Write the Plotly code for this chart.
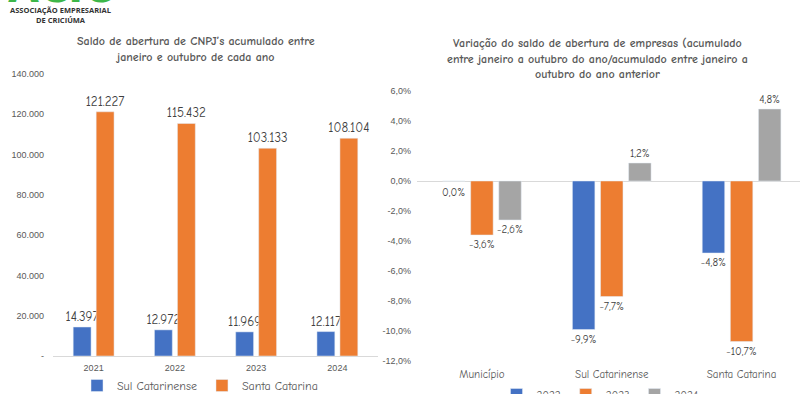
import plotly.graph_objects as go

# ---------------- data ----------------
years = ["2021", "2022", "2023", "2024"]
sul_catarinense = [14397, 12972, 11969, 12117]
santa_catarina = [121227, 115432, 103133, 108104]
left_ticks = [0, 20000, 40000, 60000, 80000, 100000, 120000, 140000]
left_ticktext = ["-", "20.000", "40.000", "60.000", "80.000", "100.000", "120.000", "140.000"]

regions = ["Município", "Sul Catarinense", "Santa Catarina"]
var_2022 = [0.0, -9.9, -4.8]
var_2023 = [-3.6, -7.7, -10.7]
var_2024 = [-2.6, 1.2, 4.8]
right_ticks = [-12, -10, -8, -6, -4, -2, 0, 2, 4, 6]
right_ticktext = ["-12,0%", "-10,0%", "-8,0%", "-6,0%", "-4,0%", "-2,0%",
                  "0,0%", "2,0%", "4,0%", "6,0%"]

left_title = "Saldo de abertura de CNPJ’s acumulado entre<br>janeiro e outubro de cada ano"
right_title = ("Variação do saldo de abertura de empresas (acumulado<br>"
               "entre janeiro a outubro do ano/acumulado entre janeiro a<br>"
               "outubro do ano anterior")

# ---------------- style ----------------
W, H = 800, 394
BLUE, ORANGE, GRAY = "#4472C4", "#ED7D31", "#A5A5A5"
TXT = "#595959"
LBL = "#404040"
COMIC = "Comic Sans MS, Comic Neue, Open Sans, sans-serif"
TICKF = "Liberation Sans, Arial, sans-serif"

L_W, L_SLOT = 0.22, 0.1415          # left bar width / slot half spacing (category units)
R_W, R_SLOT = 0.173, 0.2165         # right bar width / slot spacing


def xp(px):
    return px / W


def yp(px):
    return 1 - px / H


fig = go.Figure()

for vals, name, col, c in [(sul_catarinense, "Sul Catarinense", BLUE, -L_SLOT),
                           (santa_catarina, "Santa Catarina", ORANGE, L_SLOT)]:
    fig.add_trace(go.Bar(x=years, y=vals, name=name, marker_color=col,
                         xaxis="x", yaxis="y", width=L_W, offset=c - L_W / 2,
                         texttemplate="%{y:,d}", textposition="outside",
                         constraintext="none",
                         textfont=dict(family=COMIC, size=13, color=LBL),
                         cliponaxis=False, legend="legend"))

annotations = []
for k, (name, vals, col) in enumerate([("2022", var_2022, BLUE),
                                        ("2023", var_2023, ORANGE),
                                        ("2024", var_2024, GRAY)]):
    c = (k - 1) * R_SLOT
    texts = ["" if v == 0 else f"{v:.1f}%".replace(".", ",") for v in vals]
    fig.add_trace(go.Bar(x=regions, y=vals, name=name, marker_color=col,
                         xaxis="x2", yaxis="y2", width=R_W, offset=c - R_W / 2,
                         text=texts, textposition="outside", constraintext="none",
                         textfont=dict(family=COMIC, size=11, color=LBL),
                         cliponaxis=False, legend="legend2"))
    for i, v in enumerate(vals):
        if v == 0:
            annotations.append(dict(
                x=i + c, y=v, xref="x2", yref="y2", text=f"{v:.1f}%".replace(".", ","),
                showarrow=False, yanchor="top", yshift=-3,
                font=dict(family=COMIC, size=11, color=LBL)))

annotations += [
    dict(text=left_title, x=xp(196), y=yp(49), xref="paper", yref="paper",
         showarrow=False, xanchor="center", yanchor="middle",
         font=dict(family=COMIC, size=12, color=TXT, weight="bold")),
    dict(text=right_title, x=xp(597), y=yp(58), xref="paper", yref="paper",
         showarrow=False, xanchor="center", yanchor="middle",
         font=dict(family=COMIC, size=12, color=TXT, weight="bold")),
    dict(text="ACIC", x=xp(60), y=yp(13), xref="paper", yref="paper",
         showarrow=False, xanchor="center", yanchor="bottom",
         font=dict(family="DejaVu Sans", size=40, color="#3DB649", weight="bold")),
    dict(text="ASSOCIAÇÃO EMPRESARIAL<br>DE CRICIÚMA", x=xp(60), y=yp(3),
         xref="paper", yref="paper", showarrow=False, xanchor="center",
         yanchor="top", bgcolor="white",
         font=dict(family="Open Sans", size=7.5, color="#333333", weight="bold")),
]

fig.update_layout(
    width=W, height=H,
    margin=dict(l=0, r=0, t=0, b=0, autoexpand=False),
    paper_bgcolor="white", plot_bgcolor="white",
    separators=",.",
    barmode="overlay",
    showlegend=True,
    xaxis=dict(domain=[xp(53), xp(378)], anchor="y", showgrid=False,
               showline=True, linecolor="#D9D9D9", ticks="", range=[-0.5, 3.5],
               ticklabelstandoff=3,
               tickfont=dict(family=TICKF, size=9, color=TXT)),
    yaxis=dict(domain=[yp(356), yp(74)], anchor="x", range=[0, 140000],
               tickvals=left_ticks, ticktext=left_ticktext, showgrid=False,
               zeroline=False, showline=False, ticks="", ticklabelstandoff=8,
               tickfont=dict(family=TICKF, size=9, color=TXT)),
    xaxis2=dict(domain=[xp(417), 1.0], anchor="y2", showgrid=False,
                showline=False, ticks="", range=[-0.5, 2.45],
                ticklabelstandoff=5,
                tickfont=dict(family=COMIC, size=11, color=TXT)),
    yaxis2=dict(domain=[yp(361), yp(91)], anchor="free", position=xp(417),
                range=[-12, 6], tickvals=right_ticks, ticktext=right_ticktext,
                showgrid=False, zeroline=True, ticklabelstandoff=6,
                zerolinecolor="#D9D9D9", zerolinewidth=1, showline=False,
                ticks="", tickfont=dict(family=TICKF, size=9, color=TXT)),
    legend=dict(orientation="h", x=xp(200), xanchor="center",
                y=yp(371), yanchor="top", itemwidth=30,
                font=dict(family=COMIC, size=12, color=TXT),
                bgcolor="rgba(0,0,0,0)"),
    legend2=dict(orientation="h", x=xp(600), xanchor="center",
                 y=yp(380), yanchor="top", itemwidth=30,
                 font=dict(family=COMIC, size=11, color=TXT),
                 bgcolor="rgba(0,0,0,0)"),
    annotations=annotations,
)

fig.write_html("out.html", config={"displayModeBar": False},
               post_script="document.body.style.margin='0px';"
                           "document.body.style.overflow='hidden';")
